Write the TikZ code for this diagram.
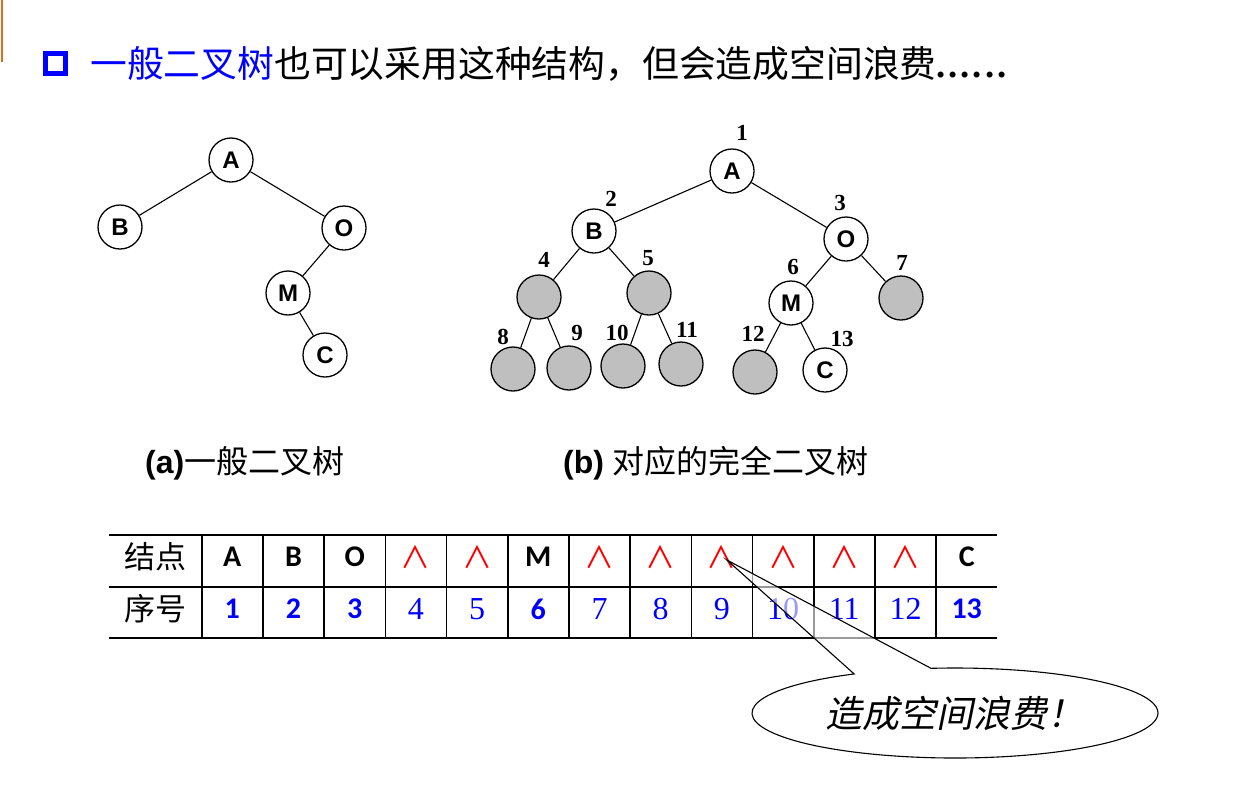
\documentclass[tikz,border=0pt]{standalone}
\usepackage{fontspec}
\setmainfont{Liberation Serif}
\setsansfont{Liberation Sans}
\newfontfamily\cjk{Noto Sans CJK SC}
\newfontfamily\cjkit[FakeSlant=0.2]{Noto Sans CJK SC}
\newfontfamily\calib{Carlito}
\newfontfamily\dotfont[LetterSpace=8]{Liberation Serif}
\usepackage{xcolor}
\usepackage{tikz}
\usetikzlibrary{shapes.callouts,shapes.geometric}
\definecolor{slideorange}{RGB}{214,112,30}

\begin{document}
\begin{tikzpicture}[
x=1pt,y=-1pt,
tn/.style={circle, draw, line width=1.3pt, minimum size=44pt, inner sep=0pt, fill=white, font=\sffamily\bfseries\fontsize{24}{24}\selectfont},
gn/.style={tn, fill=gray!50},
idx/.style={inner sep=0pt, font=\bfseries\fontsize{23}{23}\selectfont},
link/.style={line width=1.1pt},
tline/.style={line width=1.6pt},
hd/.style={font=\cjk\fontsize{31}{31}\selectfont},
vn/.style={font=\calib\bfseries\fontsize{30}{30}\selectfont},
nil/.style={red, font=\cjk\fontsize{30}{30}\selectfont},
bnum/.style={blue, font=\calib\bfseries\fontsize{30}{30}\selectfont},
snum/.style={blue, font=\fontsize{32}{32}\selectfont},
captext/.style={anchor=west, inner sep=0pt, font=\fontsize{32}{32}\selectfont}
]
\useasboundingbox (0,0) rectangle (1249,785);
\draw[slideorange, line width=2pt] (2,0) -- (2,62);
\node[draw=blue, line width=5.5pt, minimum size=20pt, inner sep=0pt] (bullet) at (55.5,63.5) {};
\node[anchor=west, inner sep=0pt, font=\cjk\fontsize{36.8}{36.8}\selectfont] (title) at (90,64) {\textcolor{blue}{一般二叉树}也可以采用这种结构，但会造成空间浪费{\dotfont\bfseries ......}};
\node[tn] (lA) at (231,160) {A};
\node[tn] (lB) at (120,227) {B};
\node[tn] (lO) at (344,228) {O};
\node[tn] (lM) at (288,293) {M};
\node[tn] (lC) at (325,355) {C};
\draw[link] (lA) -- (lB);
\draw[link] (lA) -- (lO);
\draw[link] (lO) -- (lM);
\draw[link] (lM) -- (lC);
\foreach \i/\x/\y/\s/\t in {1/732/171/tn/A,2/594/231/tn/B,3/846/239/tn/O,4/539/297/gn/{},5/649/293/gn/{},6/791/303/tn/M,7/901/298/gn/{},8/513/369/gn/{},9/569/368/gn/{},10/623/366/gn/{},11/681/364/gn/{},12/755/372/gn/{},13/825/370/tn/C}
  {\node[\s] (c\i) at (\x,\y) {\t};}
\foreach \a/\b in {1/2,1/3,2/4,2/5,3/6,3/7,4/8,4/9,5/10,5/11,6/12,6/13}
  {\draw[link] (c\a) -- (c\b);}
\foreach \i/\x/\y in {1/742/133,2/611/199,3/840/203,4/544/260,5/648/258,6/793/267,7/902/263,8/503/337,9/577/333,10/617/333,11/687/330,12/753/334,13/842/339}
  {\node[idx] (n\i) at (\x,\y) {\i};}
\node[captext] (capa) at (145,463) {\sffamily\bfseries(a)\cjk\mdseries 一般二叉树};
\node[captext] (capb) at (563,463) {\sffamily\bfseries(b) \cjk\mdseries 对应的完全二叉树};
\foreach \y in {535,587,638}
  {\draw[tline] (109,\y) -- (997,\y);}
\foreach \k in {0,...,12}
  {\draw[tline] ({201.7+61.2*\k},535) -- ({201.7+61.2*\k},638);}
\node[hd] (h1) at (155,557) {结点};
\node[hd] (h2) at (155,609) {序号};
\foreach \k/\s/\t in {0/vn/A,1/vn/B,2/vn/O,3/nil/∧,4/nil/∧,5/vn/M,6/nil/∧,7/nil/∧,8/nil/∧,9/nil/∧,10/nil/∧,11/nil/∧,12/vn/C}
  {\node[\s] (v\k) at ({232.3+61.2*\k},557) {\t};}
\foreach \k/\s in {1/bnum,2/bnum,3/bnum,4/snum,5/snum,6/bnum,7/snum,8/snum,9/snum,10/snum,11/snum,12/snum,13/bnum}
  {\node[\s] (s\k) at ({171.1+61.2*\k},609) {\k};}
\node[ellipse callout, draw, line width=1.1pt, fill=white, fill opacity=0.6, text opacity=1, minimum width=406pt, minimum height=90pt, inner sep=0pt, callout absolute pointer={([xshift=5pt,yshift=-3pt]v8.center)}, callout pointer arc=23, font=\cjkit\fontsize{37}{37}\selectfont] (note) at (955,713) {造成空间浪费！};
\end{tikzpicture}
\end{document}
